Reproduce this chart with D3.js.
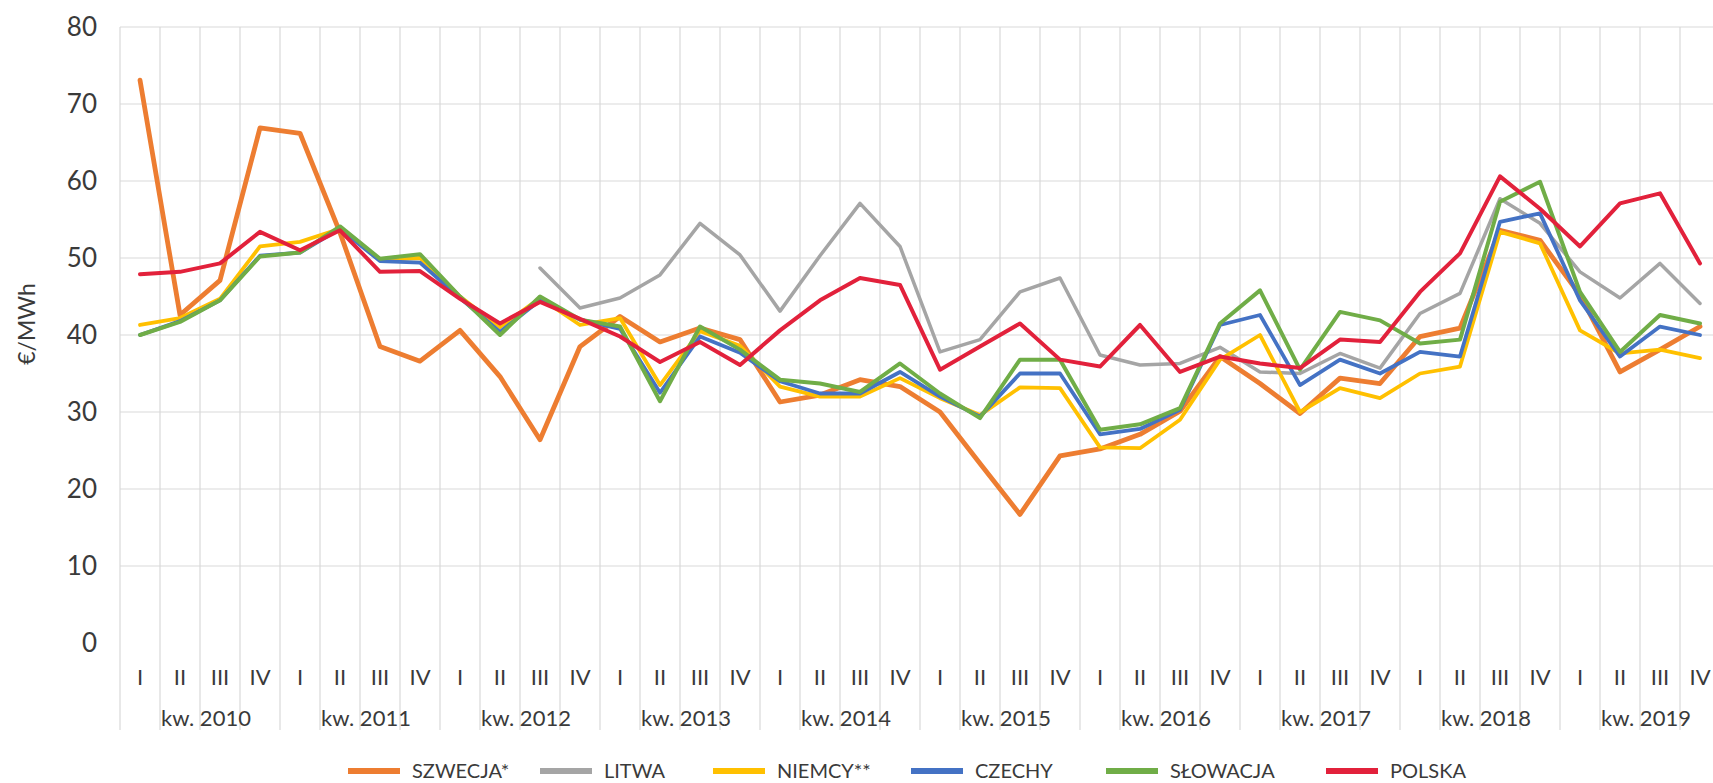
<!DOCTYPE html>
<html><head><meta charset="utf-8">
<script src="https://cdn.jsdelivr.net/npm/d3@7"></script>
<style>
html,body{margin:0;padding:0;background:#fff;overflow:hidden}
text{font-family:Lato,"Open Sans",sans-serif;fill:#3a3a3a}
</style></head>
<body><svg id="c" width="1713" height="783"></svg>
<script>
const years = ["kw. 2010","kw. 2011","kw. 2012","kw. 2013","kw. 2014","kw. 2015","kw. 2016","kw. 2017","kw. 2018","kw. 2019"];
const quarters = ["I","II","III","IV"];
const yTicks = [0,10,20,30,40,50,60,70,80];
const seriesNames = ["SZWECJA*","LITWA","NIEMCY**","CZECHY","SŁOWACJA","POLSKA"];
const seriesColors = ["#ED7D31","#A5A5A5","#FFC000","#4472C4","#70AD47","#E2213B"];

const szwecja = [73.1,42.6,47.1,66.9,66.2,53.3,38.5,36.6,40.6,34.6,26.4,38.5,42.4,39.1,40.9,39.4,31.3,32.2,34.2,33.3,30.0,23.3,16.7,24.3,25.2,27.1,30.1,37.2,33.7,29.8,34.4,33.7,39.8,40.9,53.6,52.3,45.2,35.2,38.1,41.1];
const litwa = [null,null,null,null,null,null,null,null,null,null,48.7,43.5,44.8,47.8,54.5,50.4,43.1,50.3,57.1,51.5,37.8,39.4,45.6,47.4,37.4,36.1,36.3,38.4,35.2,35.0,37.6,35.7,42.8,45.4,57.7,54.5,48.2,44.8,49.3,44.1];
const niemcy = [41.3,42.2,44.7,51.5,52.1,53.8,49.8,50.0,45.0,41.0,44.8,41.3,42.2,33.5,40.5,38.6,33.3,32.0,32.0,34.4,31.8,29.6,33.2,33.1,25.4,25.3,29.0,36.8,40.0,30.0,33.1,31.8,35.0,35.9,53.4,51.9,40.6,37.6,38.1,37.0];
const czechy = [40.0,41.8,44.5,50.3,50.7,53.8,49.6,49.4,44.8,40.4,44.5,42.0,40.8,32.5,39.8,37.7,34.0,32.4,32.4,35.2,32.0,29.4,35.0,35.0,27.1,27.8,30.3,41.3,42.6,33.5,36.8,35.0,37.8,37.2,54.7,55.8,44.5,37.2,41.1,40.0];
const slowacja = [40.0,41.7,44.5,50.2,50.7,54.1,49.9,50.5,45.0,40.0,45.0,42.0,41.1,31.4,41.1,38.1,34.2,33.7,32.6,36.3,32.4,29.2,36.8,36.8,27.7,28.4,30.5,41.5,45.8,35.5,43.0,41.9,38.9,39.4,57.3,59.9,45.6,37.8,42.6,41.5];
const polska = [47.9,48.2,49.3,53.4,51.0,53.6,48.2,48.3,44.7,41.5,44.3,42.1,39.8,36.5,39.1,36.1,40.6,44.5,47.4,46.5,35.5,38.5,41.5,36.8,35.9,41.3,35.2,37.2,36.3,35.7,39.4,39.1,45.6,50.6,60.6,56.4,51.5,57.1,58.4,49.3];
const seriesData = [szwecja,litwa,niemcy,czechy,slowacja,polska];

const categories = [];
years.forEach(yr => quarters.forEach(q => categories.push(yr + " " + q)));

const svg = d3.select("#c");
const pLeft = 120, pRight = 1720, pTop = 27, pBottom = 643;
const x = d3.scaleBand().domain(categories).range([pLeft, pRight]);
const y = d3.scaleLinear().domain([0, 80]).range([pBottom, pTop]);

// horizontal gridlines
svg.append("g").selectAll("line").data(yTicks.filter(d => d > 0)).join("line")
  .attr("x1", pLeft).attr("x2", pRight)
  .attr("y1", d => y(d)).attr("y2", d => y(d))
  .attr("stroke", "#d9d9d9").attr("stroke-width", 1.2);

// vertical gridlines (category boundaries)
const bounds = categories.map(c => x(c)).concat([pRight]);
svg.append("g").selectAll("line").data(bounds).join("line")
  .attr("x1", d => d).attr("x2", d => d)
  .attr("y1", pTop).attr("y2", 730)
  .attr("stroke", "#d9d9d9").attr("stroke-width", 1.2);

// y labels
svg.append("g").selectAll("text").data(yTicks).join("text")
  .attr("x", 97).attr("y", d => y(d)).attr("dy", "0.36em")
  .attr("text-anchor", "end").style("font-size", "26px").text(d => d);

svg.append("text").attr("transform", "translate(35,324) rotate(-90)")
  .attr("text-anchor", "middle").style("font-size", "23px").text("€/MWh");

// quarter labels
svg.append("g").selectAll("text").data(categories).join("text")
  .attr("x", d => x(d) + x.bandwidth() / 2).attr("y", 677).attr("dy", "0.36em")
  .attr("text-anchor", "middle").style("font-size", "22px")
  .text((d, i) => quarters[i % 4]);

// year labels
svg.append("g").selectAll("text").data(years).join("text")
  .attr("x", (d, i) => x(categories[i * 4]) + x.bandwidth() * 2 + 6).attr("y", 718).attr("dy", "0.36em")
  .attr("text-anchor", "middle").style("font-size", "22px").text(d => d);

// lines
const line = d3.line().defined(d => d != null)
  .x((d, i) => x(categories[i]) + x.bandwidth() / 2).y(d => y(d));
const widths = [4.8, 3.5, 3.8, 3.8, 4, 4];
seriesData.forEach((s, k) => {
  svg.append("path").datum(s).attr("d", line)
    .attr("fill", "none").attr("stroke", seriesColors[k]).attr("stroke-width", widths[k])
    .attr("stroke-linejoin", "round").attr("stroke-linecap", "round");
});

// legend
const legendX = [348, 540, 713, 911, 1106, 1326];
const lg = svg.append("g");
seriesNames.forEach((n, k) => {
  lg.append("line").attr("x1", legendX[k]).attr("x2", legendX[k] + 52)
    .attr("y1", 771).attr("y2", 771).attr("stroke", seriesColors[k]).attr("stroke-width", 6);
  lg.append("text").attr("x", legendX[k] + 64).attr("y", 771).attr("dy", "0.35em")
    .style("font-size", "20px").text(n);
});
</script></body></html>
